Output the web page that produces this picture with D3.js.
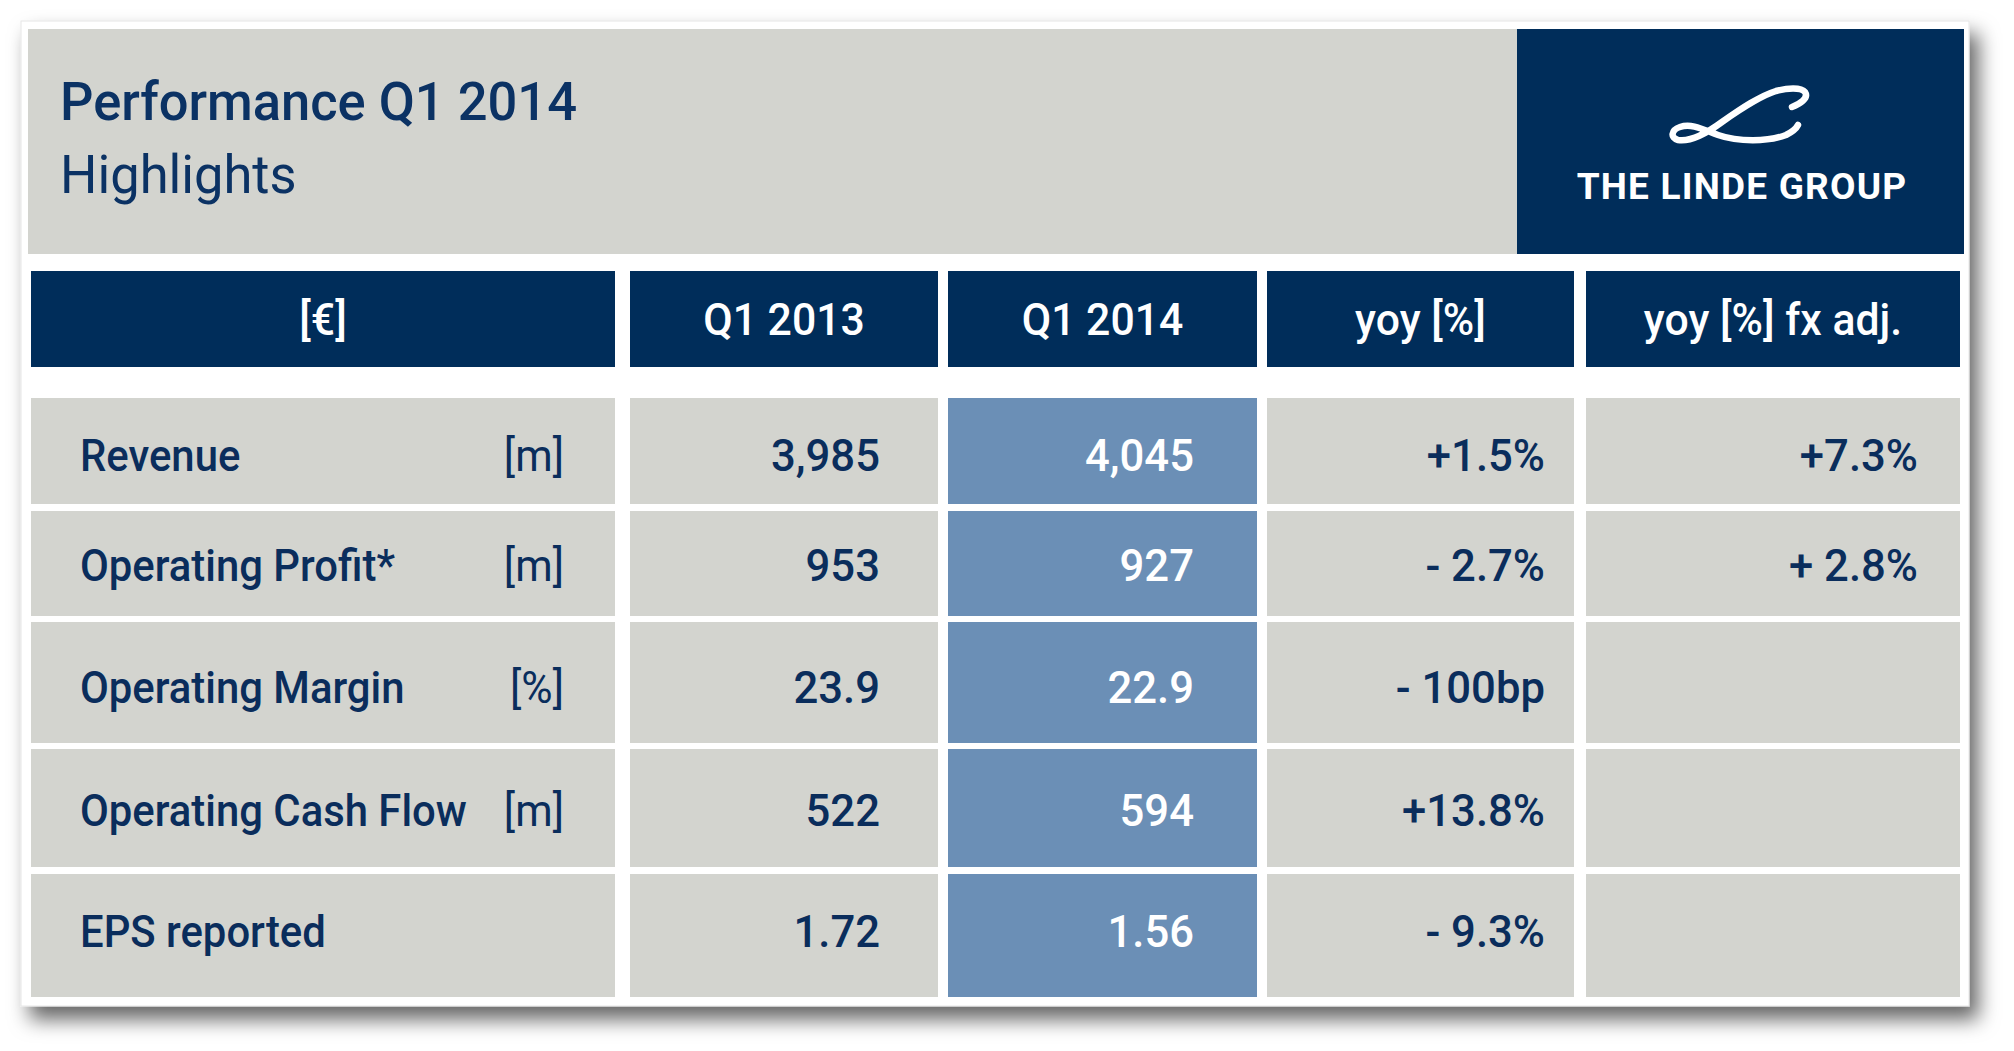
<!DOCTYPE html>
<html>
<head>
<meta charset="utf-8">
<script src="https://cdn.jsdelivr.net/npm/d3@7"></script>
<style>
  html, body { margin: 0; padding: 0; background: #ffffff; }
  svg { display: block; }
  text { font-family: Roboto, "Open Sans", sans-serif; }
</style>
</head>
<body>
<svg id="chart" width="2014" height="1051"></svg>
<script>
// ---------- DATA ----------
const titleLines = ["Performance Q1 2014", "Highlights"];
const logoText = "THE LINDE GROUP";
const columns = ["[€]", "Q1 2013", "Q1 2014", "yoy [%]", "yoy [%] fx adj."];
const metrics = ["Revenue", "Operating Profit*", "Operating Margin", "Operating Cash Flow", "EPS reported"];
const units = ["[m]", "[m]", "[%]", "[m]", ""];
const q1_2013 = [3985, 953, 23.9, 522, 1.72];
const q1_2014 = [4045, 927, 22.9, 594, 1.56];
const yoy = ["+1.5%", "- 2.7%", "- 100bp", "+13.8%", "- 9.3%"];
const yoyFx = ["+7.3%", "+ 2.8%", "", "", ""];
const valueFormats = [",", "", ".1f", "", ".2f"];

// ---------- LAYOUT ----------
const NAVY = "#002d5a", GREY = "#d3d4cf", BLUE = "#6b8fb6", INK = "#0a2d5c";
const colEdges = [[31, 615], [630, 938], [948, 1257], [1267, 1574], [1586, 1960]];
const rowEdges = [[398, 504], [511, 616], [622, 743], [749, 867], [874, 997]];
const headerRow = [271, 367];
const baseOff = [73, 70, 81, 77, 73];

// place text at (x,y) with horizontal condensing
function place(sel, x, y, sx) {
  sel.attr("x", 0).attr("y", 0)
     .attr("transform", (d, i) => {
       const xx = typeof x === "function" ? x(d, i) : x;
       const yy = typeof y === "function" ? y(d, i) : y;
       return `translate(${xx},${yy}) scale(${sx},1)`;
     });
  return sel;
}

const svg = d3.select("#chart");
const defs = svg.append("defs");
const f = defs.append("filter").attr("id", "shadow")
  .attr("x", "-5%").attr("y", "-5%").attr("width", "115%").attr("height", "120%");
f.append("feDropShadow").attr("dx", 9).attr("dy", 13).attr("stdDeviation", 10)
  .attr("flood-color", "#000").attr("flood-opacity", 0.6);

// card
svg.append("rect").attr("x", 21).attr("y", 21).attr("width", 1948).attr("height", 985)
  .attr("fill", "#ffffff").attr("stroke", "#e6e6e6").attr("stroke-width", 1)
  .attr("filter", "url(#shadow)");

// title band
svg.append("rect").attr("x", 28).attr("y", 29).attr("width", 1489).attr("height", 225).attr("fill", GREY);
svg.append("rect").attr("x", 1517).attr("y", 29).attr("width", 447).attr("height", 225).attr("fill", NAVY);

place(svg.selectAll("text.title").data(titleLines).join("text").attr("class", "title"),
      60, (d, i) => [120, 193][i], 0.99)
  .attr("font-size", 53)
  .attr("font-weight", (d, i) => i === 0 ? 500 : 400)
  .attr("fill", "#0b3264")
  .text(d => d);

// logo
const logo = svg.append("g").attr("transform", "translate(1672,88)");
logo.append("path")
  .attr("d", "M120,19 C128,16 137,10 133,4 C129,-1 115,0 104,3 C88,8 70,20 50,34 C35,45 18,54 6,52 C-2,50 -1,42 8,39 C20,35 32,42 46,47 C66,54 96,54 114,47 C120,44 124,41 126,37")
  .attr("fill", "none").attr("stroke", "#ffffff").attr("stroke-width", 6.5)
  .attr("stroke-linecap", "round").attr("stroke-linejoin", "round");
svg.append("text").attr("x", 1742).attr("y", 199).attr("text-anchor", "middle")
  .attr("font-size", 37).attr("font-weight", 700).attr("fill", "#ffffff")
  .attr("letter-spacing", 1.2).text(logoText);

// scales
const xCol = d3.scaleOrdinal().domain(columns).range(colEdges);
const yRow = d3.scaleOrdinal().domain(metrics).range(rowEdges);

// header row
const hdr = svg.append("g");
hdr.selectAll("rect").data(columns).join("rect")
  .attr("x", d => xCol(d)[0]).attr("width", d => xCol(d)[1] - xCol(d)[0])
  .attr("y", headerRow[0]).attr("height", headerRow[1] - headerRow[0])
  .attr("fill", NAVY);
place(hdr.selectAll("text").data(columns).join("text"),
      d => (xCol(d)[0] + xCol(d)[1]) / 2, headerRow[0] + 64, 0.95)
  .attr("text-anchor", "middle")
  .attr("font-size", 45).attr("font-weight", 500).attr("fill", "#ffffff")
  .text(d => d);

// body cells
const rows = metrics.map((m, i) => ({
  metric: m, unit: units[i],
  cells: [d3.format(valueFormats[i])(q1_2013[i]),
          d3.format(valueFormats[i])(q1_2014[i]),
          yoy[i], yoyFx[i]],
  i
}));
const valueRight = [880, 1194, 1545, 1918];

const rg = svg.selectAll("g.row").data(rows).join("g").attr("class", "row");
rg.each(function (r) {
  const g = d3.select(this);
  const [t, b] = yRow(r.metric);
  const base = t + baseOff[r.i];
  g.selectAll("rect").data(columns).join("rect")
    .attr("x", c => xCol(c)[0]).attr("width", c => xCol(c)[1] - xCol(c)[0])
    .attr("y", t).attr("height", b - t)
    .attr("fill", (c, j) => j === 2 ? BLUE : GREY);
  place(g.append("text"), 80, base, 0.93)
    .attr("font-size", 45).attr("font-weight", 500).attr("fill", INK).text(r.metric);
  if (r.unit) place(g.append("text"), 564, base, 0.95).attr("text-anchor", "end")
    .attr("font-size", 45).attr("font-weight", 400).attr("fill", INK).text(r.unit);
  place(g.selectAll("text.val").data(r.cells).join("text").attr("class", "val"),
        (d, j) => valueRight[j], base, 0.97)
    .attr("text-anchor", "end")
    .attr("font-size", 45).attr("font-weight", 500)
    .attr("fill", (d, j) => j === 1 ? "#ffffff" : INK)
    .text(d => d);
});
</script>
</body>
</html>
